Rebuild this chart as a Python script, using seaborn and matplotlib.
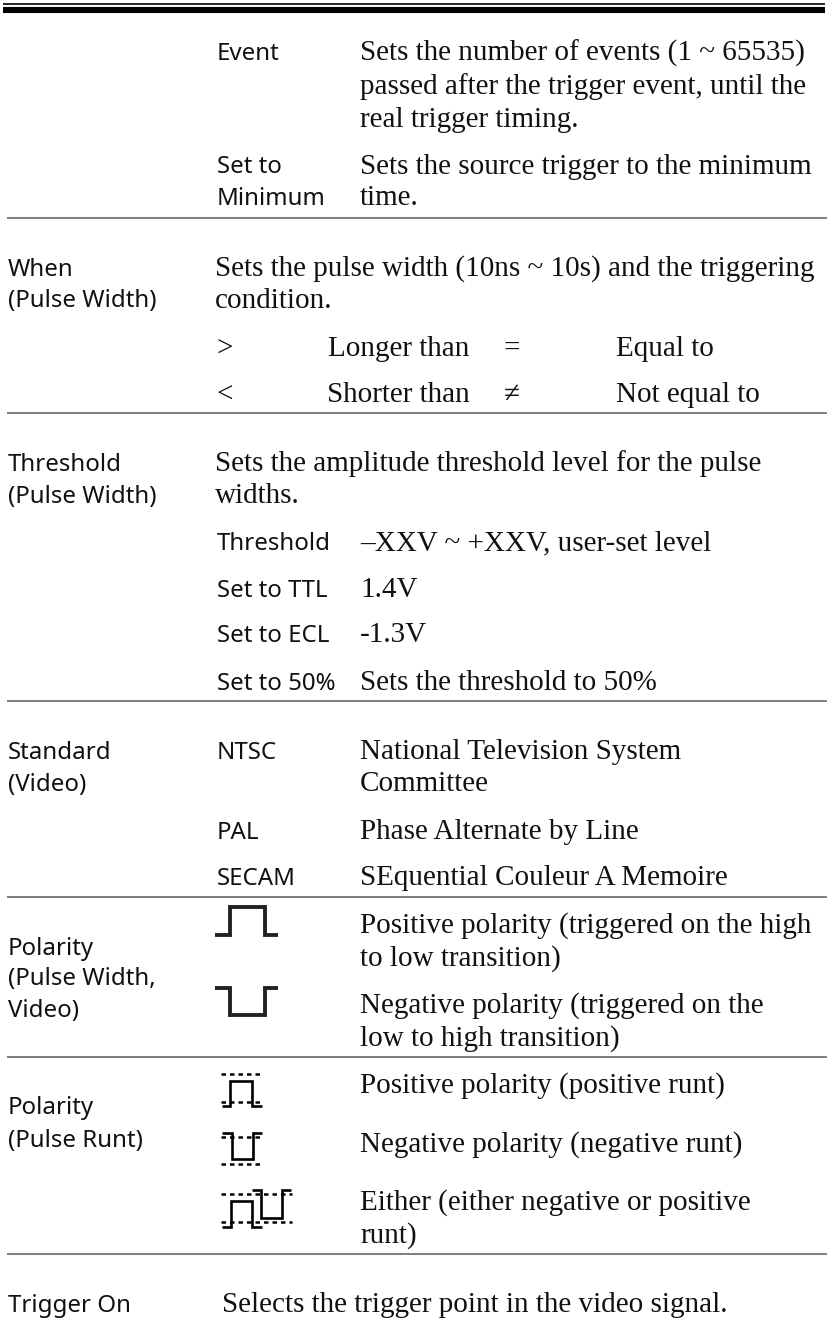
import matplotlib
matplotlib.use("Agg")
import matplotlib.pyplot as plt
import seaborn as sns

SERIF = "Liberation Serif"
SANS = "Noto Sans"
RULE_GREY = "#808080"
INK = "#111111"

# left column labels
label_text = ["When", "(Pulse Width)", "Threshold", "(Pulse Width)", "Standard", "(Video)",
              "Polarity", "(Pulse Width,", "Video)", "Polarity", "(Pulse Runt)", "Trigger On"]
label_x = [8] * 12
label_y = [276, 307, 471, 503, 759, 791, 955, 985, 1017, 1114, 1147, 1312]

# option names in the second column
option_text = ["Event", "Set to", "Minimum", "Threshold", "Set to TTL", "Set to ECL", "Set to 50%",
               "NTSC", "PAL", "SECAM"]
option_x = [217] * 10
option_y = [60, 173, 205, 550, 597, 642, 690, 759, 839, 885]

# serif description lines
desc_text = [
    "Sets the number of events (1 ~ 65535)",
    "passed after the trigger event, until the",
    "real trigger timing.",
    "Sets the source trigger to the minimum",
    "time.",
    "Sets the pulse width (10ns ~ 10s) and the triggering",
    "condition.",
    ">",
    "Longer than",
    "=",
    "Equal to",
    "<",
    "Shorter than",
    "≠",
    "Not equal to",
    "Sets the amplitude threshold level for the pulse",
    "widths.",
    "–XXV ~ +XXV, user-set level",
    "1.4V",
    "-1.3V",
    "Sets the threshold to 50%",
    "National Television System",
    "Committee",
    "Phase Alternate by Line",
    "SEquential Couleur A Memoire",
    "Positive polarity (triggered on the high",
    "to low transition)",
    "Negative polarity (triggered on the",
    "low to high transition)",
    "Positive polarity (positive runt)",
    "Negative polarity (negative runt)",
    "Either (either negative or positive",
    "runt)",
    "Selects the trigger point in the video signal.",
]
desc_x = [360, 360, 360, 360, 360, 215, 215, 217, 328, 504, 616, 217, 327, 504, 616,
          215, 215, 360, 360, 360, 360, 360, 360, 360, 360, 360, 360, 360, 360,
          360, 360, 360, 360, 222]
desc_y = [61, 94, 127, 174, 205, 276, 308, 356, 356, 356, 356, 402, 402, 402, 402,
          471, 503, 550, 597, 642, 690, 759, 791, 839, 885, 933, 966, 1013, 1046,
          1093, 1152, 1210, 1243, 1312]

# horizontal rules under the sections
rule_y = [218, 413, 701, 897, 1057, 1254]
rule_x = [7, 828]

# header bars
header_x = [3, 825]
header_thin_y = [4.2, 4.2]
header_thick_y = [10, 10]

# polarity symbols, x and y of each stroke
pos_x = [215, 230, 230, 265, 265, 278]
pos_y = [935, 935, 907, 907, 935, 935]
neg_x = [215, 230, 230, 265, 265, 278]
neg_y = [988, 988, 1015, 1015, 988, 988]

runt1_x = [222, 230, 230, 252, 252, 262]
runt1_y = [1106, 1106, 1081, 1081, 1106, 1106]
runt2_x = [222, 232, 232, 253, 253, 262]
runt2_y = [1133, 1133, 1159, 1159, 1133, 1133]
runt3a_x = [222, 231, 231, 252, 252, 262]
runt3a_y = [1227, 1227, 1201, 1201, 1227, 1227]
runt3b_x = [252, 261, 261, 282, 282, 291]
runt3b_y = [1190, 1190, 1218, 1218, 1190, 1190]

dotted_x = [[221, 262], [221, 262], [221, 262], [221, 262], [221, 292], [221, 292]]
dotted_y = [[1074, 1074], [1102, 1102], [1137, 1137], [1164, 1164], [1194, 1194], [1222, 1222]]

sns.set_theme(style="white")
fig, ax = plt.subplots(figsize=(8.28, 13.19), dpi=100)
fig.subplots_adjust(left=0, right=1, top=1, bottom=0)


def stroke(xs, ys, width, color=INK, **kw):
    sns.lineplot(x=xs, y=ys, ax=ax, color=color, linewidth=width, sort=False,
                 estimator=None, legend=False, **kw)


stroke(header_x, header_thin_y, 1.2, color="black", solid_capstyle="butt")
stroke(header_x, header_thick_y, 4.4, color="black", solid_capstyle="butt")

for y in rule_y:
    stroke(rule_x, [y, y], 1.45, color=RULE_GREY, solid_capstyle="butt")

for xs, ys in [(pos_x, pos_y), (neg_x, neg_y)]:
    stroke(xs, ys, 2.8, color="#222222", solid_joinstyle="miter", solid_capstyle="butt")
for xs, ys in [(runt1_x, runt1_y), (runt2_x, runt2_y), (runt3a_x, runt3a_y), (runt3b_x, runt3b_y)]:
    stroke(xs, ys, 1.9, color="black", solid_joinstyle="miter", solid_capstyle="butt")
for xs, ys in zip(dotted_x, dotted_y):
    stroke(xs, ys, 1.8, color="black", linestyle=(0, (1.8, 1.6)))

for t, x, y in zip(label_text, label_x, label_y):
    ax.text(x, y, t, family=SANS, fontsize=17.3, color=INK, va="baseline")
for t, x, y in zip(option_text, option_x, option_y):
    ax.text(x, y, t, family=SANS, fontsize=17.3, color=INK, va="baseline")
for t, x, y in zip(desc_text, desc_x, desc_y):
    ax.text(x, y, t, family=SERIF, fontsize=21, color=INK, va="baseline")

ax.set_xlim(0, 828)
ax.set_ylim(1319, 0)
ax.axis("off")

fig.savefig("out.png", dpi=100)
